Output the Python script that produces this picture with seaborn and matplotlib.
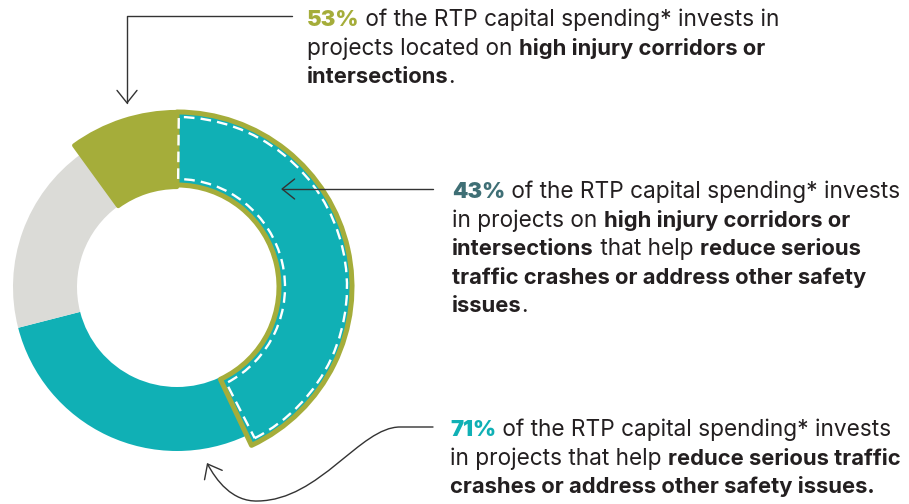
import matplotlib
matplotlib.use("Agg")
import matplotlib.pyplot as plt
import seaborn as sns
from matplotlib.patches import Wedge, FancyArrowPatch
from matplotlib.path import Path

# Share of RTP capital spending, clockwise from 12 o'clock
segments = ["High injury + safety", "Safety only", "Other", "High injury only"]
shares = [43, 28, 19, 10]

# Headline figures quoted in the callouts
pct_high_injury = 53
pct_both = 43
pct_safety = 71

sns.set_theme(style="white")
plt.rcParams["font.family"] = ["Inter", "DejaVu Sans"]

TEAL = "#10b0b5"
OLIVE = "#a5ad3a"
GREY = "#dbdbd7"
SLATE = "#3f6f75"
INK = "#231f20"
ARROW = "#333333"

W, H = 909, 504
fig = plt.figure(figsize=(W / 100, H / 100), dpi=100)
ax = fig.add_axes([0, 0, 1, 1])


def py(y):
    # convert a top-down pixel row into the axes' bottom-up coordinate
    return H - y


center = (177, py(287))
wedges, _ = ax.pie(
    shares,
    colors=[TEAL, TEAL, GREY, OLIVE],
    radius=164,
    center=center,
    startangle=90,
    counterclock=False,
    frame=True,
    wedgeprops=dict(width=64, linewidth=0),
)

# "high injury only" slice sits slightly proud of the ring
olive_w = wedges[3]
olive_w.set_radius(175)
olive_w.set_width(75)
olive_w.set_edgecolor(OLIVE)
olive_w.set_linewidth(3.0)
olive_w.set_joinstyle("round")
olive_w.set_zorder(3)

# highlighted slice: both high injury and safety
hi = wedges[0]
hi.set_radius(175)
hi.set_width(73)
hi.set_edgecolor(OLIVE)
hi.set_linewidth(3.6)
hi.set_joinstyle("round")
hi.set_zorder(4)

dash = Wedge(center, 170, hi.theta1 + 2.0, hi.theta2 - 0.6, width=62,
             facecolor="none", edgecolor="white", linewidth=1.7,
             linestyle=(0, (4.5, 2.6)), zorder=5)
ax.add_patch(dash)

ax.set_xlim(0, W)
ax.set_ylim(0, H)
ax.set_aspect("equal")
ax.axis("off")

# ---- callout text -------------------------------------------------------
FS_REG = 16.3
FS_BOLD = 15.8
LINE = 28.6
renderer = fig.canvas.get_renderer()
WEIGHTS = {0: "normal", 1: "bold", 2: "black"}


def draw_block(x0, y0, lines):
    for i, runs in enumerate(lines):
        x = x0
        y = py(y0 + i * LINE)
        for txt, w, color in runs:
            t = ax.text(x, y, txt, fontsize=FS_REG if w == 0 else FS_BOLD,
                        color=color, fontweight=WEIGHTS[w],
                        ha="left", va="baseline", zorder=10)
            x += t.get_window_extent(renderer).width


draw_block(307, 26, [
    [(f"{pct_high_injury}%", 2, OLIVE),
     (" of the RTP capital spending* invests in", 0, INK)],
    [("projects located on ", 0, INK),
     ("high injury corridors or", 1, INK)],
    [("intersections", 1, INK), (".", 0, INK)],
])

draw_block(452, 198, [
    [(f"{pct_both}%", 2, SLATE),
     (" of the RTP capital spending* invests", 0, INK)],
    [("in projects on ", 0, INK),
     ("high injury corridors or", 1, INK)],
    [("intersections", 1, INK), (" that help ", 0, INK),
     ("reduce serious", 1, INK)],
    [("traffic crashes or address other safety", 1, INK)],
    [("issues", 1, INK), (".", 0, INK)],
])

draw_block(450, 436, [
    [(f"{pct_safety}%", 2, TEAL),
     (" of the RTP capital spending* invests", 0, INK)],
    [("in projects that help ", 0, INK),
     ("reduce serious traffic", 1, INK)],
    [("crashes or address other safety issues.", 1, INK)],
])

# ---- leader arrows ------------------------------------------------------
arrow_kw = dict(arrowstyle="->,head_length=0.5,head_width=0.4",
                mutation_scale=18, color=ARROW, linewidth=1.0, zorder=9)

elbow = Path([(292, py(16)), (127, py(16)), (127, py(104))],
             [Path.MOVETO, Path.LINETO, Path.LINETO])
ax.add_patch(FancyArrowPatch(path=elbow, **arrow_kw))

straight = Path([(433, py(189)), (281, py(189))], [Path.MOVETO, Path.LINETO])
ax.add_patch(FancyArrowPatch(path=straight, **arrow_kw))

curve = Path(
    [(433, py(427)), (400, py(427)),
     (360, py(427)), (320, py(500)), (258, py(501)),
     (232, py(502)), (216, py(480)), (207, py(463))],
    [Path.MOVETO, Path.LINETO,
     Path.CURVE4, Path.CURVE4, Path.CURVE4,
     Path.CURVE4, Path.CURVE4, Path.CURVE4],
)
ax.add_patch(FancyArrowPatch(path=curve, **arrow_kw))

fig.savefig("out.png", dpi=100)
